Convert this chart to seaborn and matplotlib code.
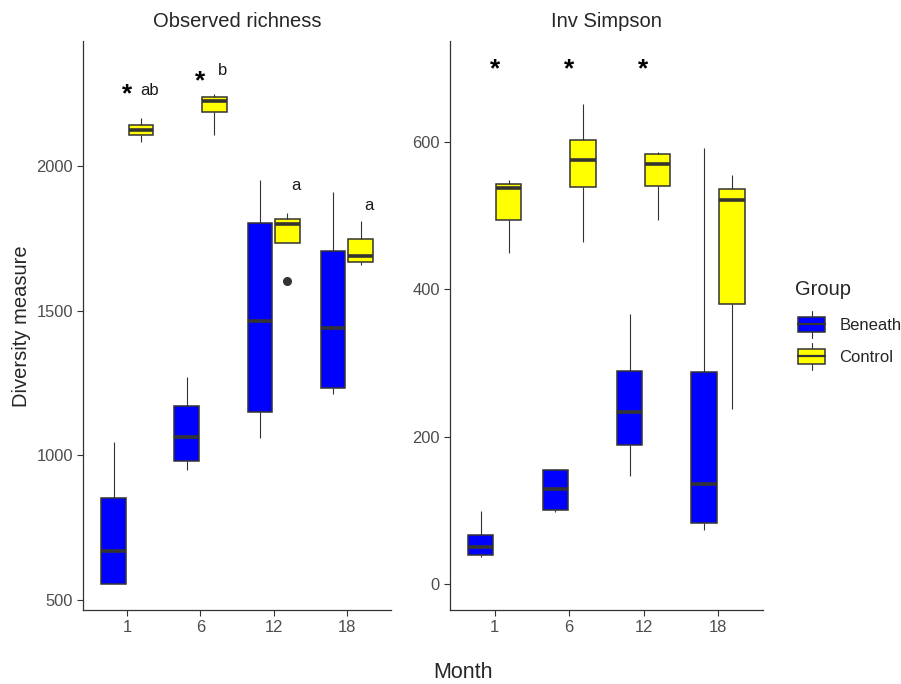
import matplotlib
matplotlib.use("Agg")
import matplotlib.pyplot as plt
from matplotlib.legend_handler import HandlerBase
from matplotlib.patches import Patch, Rectangle
from matplotlib.lines import Line2D
import seaborn as sns
import pandas as pd

months = ["1", "6", "12", "18"]
groups = ["Beneath", "Control"]
colors = {"Beneath": "#0000FF", "Control": "#FFFF00"}

richness_beneath = [[555, 555, 670, 852, 1046], [950, 979, 1064, 1171, 1272],
                    [1060, 1149, 1465, 1804, 1954], [1213, 1234, 1441, 1707, 1910]]
richness_control = [[2086, 2107, 2125, 2143, 2169], [2110, 2187, 2225, 2239, 2249],
                    [1602, 1735, 1801, 1819, 1838], [1657, 1670, 1688, 1748, 1810]]
simpson_beneath = [[36, 39, 50, 67, 99], [98, 101, 129, 155, 156],
                   [147, 189, 234, 289, 366], [73, 83, 135, 288, 592]]
simpson_control = [[449, 494, 538, 543, 548], [464, 539, 575, 602, 652],
                   [494, 540, 570, 584, 586], [238, 380, 521, 536, 555]]

# significance labels
rich_star_months = ["1", "6"]
rich_star_y = [2250, 2296]
rich_letters = ["ab", "b", "a", "a"]
rich_letter_y = [2264, 2333, 1935, 1866]
simp_star_months = ["1", "6", "12"]
simp_star_y = [699, 699, 699]


def to_long(beneath, control):
    rows = []
    for grp, vals in (("Beneath", beneath), ("Control", control)):
        for m, samples in zip(months, vals):
            for v in samples:
                rows.append({"Month": m, "Group": grp, "value": v})
    return pd.DataFrame(rows)


class BoxKey(HandlerBase):
    def create_artists(self, legend, orig_handle, xdescent, ydescent,
                       width, height, fontsize, trans):
        x0 = -xdescent + 2
        cy = -ydescent + height / 2
        fc = orig_handle.get_facecolor()
        whisk = Line2D([x0 + width / 2] * 2, [cy - 0.63 * height, cy + 0.63 * height],
                       color="#333333", lw=0.8, transform=trans)
        box = Rectangle((x0, cy - 0.34 * height), width, 0.68 * height,
                        facecolor=fc, edgecolor="#333333", lw=1.1, transform=trans)
        med = Line2D([x0, x0 + width], [cy, cy],
                     color="#333333", lw=1.6, transform=trans)
        return [whisk, box, med]


sns.set_style("ticks")
plt.rcParams["font.family"] = ["Liberation Sans", "DejaVu Sans"]

fig = plt.figure(figsize=(9.01, 6.84), dpi=100)
ax1 = fig.add_axes([0.0925, 0.1086, 0.3412, 0.8314])
ax2 = fig.add_axes([0.4994, 0.1086, 0.3471, 0.8314])

panels = [
    (ax1, to_long(richness_beneath, richness_control), (465, 2434), [500, 1000, 1500, 2000], "Observed richness"),
    (ax2, to_long(simpson_beneath, simpson_control), (-35, 737), [0, 200, 400, 600], "Inv Simpson"),
]

for ax, df, ylim, yticks, title in panels:
    sns.boxplot(data=df, x="Month", y="value", hue="Group", order=months,
                hue_order=groups, palette=colors, saturation=1, width=0.75, gap=0.1,
                linecolor="#333333", linewidth=1.1, showcaps=False, whis=1.5,
                fliersize=5.5,
                flierprops={"marker": "o", "markerfacecolor": "#333333",
                            "markeredgecolor": "#333333"},
                medianprops={"linewidth": 2.6},
                whiskerprops={"linewidth": 0.8},
                legend=False, ax=ax)
    ax.set_xlim(-0.6, 3.6)
    ax.set_ylim(*ylim)
    ax.set_yticks(yticks)
    ax.set_xlabel("")
    ax.set_ylabel("")
    ax.set_title(title, fontsize=14.5, pad=10)
    for s in ["top", "right"]:
        ax.spines[s].set_visible(False)
    for s in ["left", "bottom"]:
        ax.spines[s].set_color("#333333")
        ax.spines[s].set_linewidth(0.9)
    ax.tick_params(length=4.3, width=0.8, color="#333333", labelcolor="#4D4D4D",
                   labelsize=11.9, pad=3)

# annotations
for m, y in zip(rich_star_months, rich_star_y):
    ax1.text(months.index(m), y, "*", ha="center", va="center", fontsize=19,
             fontweight="bold", color="black")
for i, (lab, y) in enumerate(zip(rich_letters, rich_letter_y)):
    ax1.text(i + 0.3, y, lab, ha="center", va="center", fontsize=12, color="#1a1a1a")
for m, y in zip(simp_star_months, simp_star_y):
    ax2.text(months.index(m), y, "*", ha="center", va="center", fontsize=19,
             fontweight="bold", color="black")

fig.text(0.0244, 0.523, "Diversity measure", rotation=90, ha="center", va="center", fontsize=14.5)
fig.text(0.514, 0.0175, "Month", ha="center", va="center", fontsize=15.5)

handles = [Patch(facecolor=colors[g], edgecolor="#333333") for g in groups]
leg = fig.legend(handles, groups, title="Group", loc="upper left",
                 bbox_to_anchor=(795 / 901, 1 - 280 / 684), frameon=False,
                 handler_map={Patch: BoxKey()}, fontsize=12, title_fontsize=14.5,
                 handlelength=1.65, handleheight=1.6, labelspacing=0.63,
                 handletextpad=1.0, borderpad=0, borderaxespad=0, alignment="left")
# a bit more room between the legend title and the keys
leg._legend_box.sep += 3

fig.savefig("out.png", dpi=100)
